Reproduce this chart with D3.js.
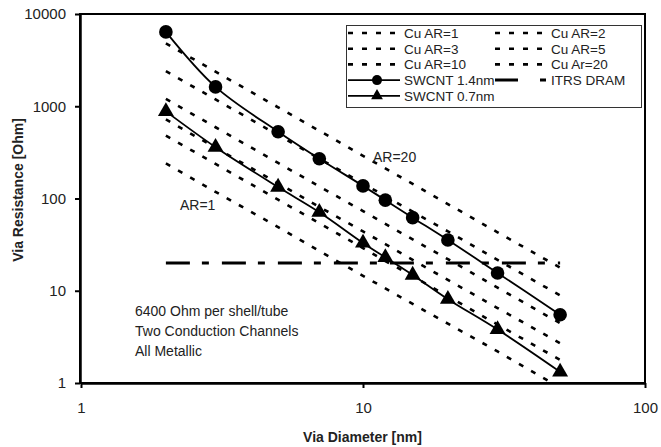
<!DOCTYPE html>
<html>
<head>
<meta charset="utf-8">
<script src="https://cdn.jsdelivr.net/npm/d3@7"></script>
<style>
    body { margin: 0; background: white; }
    text { font-family: "Liberation Sans", Arial, sans-serif; }
</style>
</head>
<body>
<div id="viaChart"></div>
<script>
// via diameters [nm]
const diameters = [2, 3, 5, 7, 10, 12, 15, 20, 30, 50]

// SWCNT bundles
const swcnt14 = [6400, 1620, 530, 270, 137, 96, 62, 35.5, 15.6, 5.5]
const swcnt07 = [880, 360, 133, 71, 33, 23, 14.8, 8.1, 3.8, 1.32]

// Cu vias, one list per aspect ratio
const cuAR1 = [240, 118, 49, 27, 14.5, 10.6, 7.2, 4.4, 2.2, 0.89]
const cuAR2 = [480, 237, 97, 54, 29, 21, 14.4, 8.7, 4.3, 1.78]
const cuAR3 = [720, 355, 146, 81, 44, 32, 21.6, 13.1, 6.5, 2.7]
const cuAR5 = [1200, 592, 243, 135, 73, 53, 36, 22, 10.8, 4.45]
const cuAR10 = [2400, 1185, 487, 271, 145, 106, 72, 44, 21.6, 8.9]
const cuAR20 = [4800, 2370, 974, 542, 290, 212, 144, 87, 43, 17.8]

// ITRS DRAM target
const itrsDiameters = [2, 50]
const itrsValues = [20, 20]

const xTicks = [1, 10, 100]
const yTicks = [1, 10, 100, 1000, 10000]

const cuSeries = [
    {name: "Cu AR=1", values: cuAR1},
    {name: "Cu AR=2", values: cuAR2},
    {name: "Cu AR=3", values: cuAR3},
    {name: "Cu AR=5", values: cuAR5},
    {name: "Cu AR=10", values: cuAR10},
    {name: "Cu Ar=20", values: cuAR20}
]

drawChart("viaChart")

function drawChart(id) {
    const width = 661
    const height = 447
    const margin = {top: 14, right: 16, bottom: 64, left: 80}

    const svg = d3.select("#" + id)
        .append("svg")
        .attr("width", width)
        .attr("height", height)

    const x = d3.scaleLog()
        .domain([1, 100])
        .range([margin.left + 1, width - margin.right])
    const y = d3.scaleLog()
        .domain([1, 10000])
        .range([height - margin.bottom, margin.top])

    svg.append("clipPath")
        .attr("id", "plotClip")
        .append("rect")
        .attr("x", margin.left)
        .attr("y", margin.top)
        .attr("width", width - margin.right - margin.left)
        .attr("height", height - margin.bottom - margin.top)

    const plot = svg.append("g").attr("clip-path", "url(#plotClip)")

    const line = d3.line()
        .x(function(d) { return x(d[0]) })
        .y(function(d) { return y(d[1]) })

    // Cu lines, dotted
    plot.selectAll("cuLines")
        .data(cuSeries)
        .enter()
        .append("path")
        .attr("d", function(s) { return line(d3.zip(diameters, s.values)) })
        .attr("fill", "none")
        .attr("stroke", "black")
        .attr("stroke-width", 2.6)
        .attr("stroke-dasharray", "5,9")

    // ITRS DRAM
    plot.append("path")
        .attr("d", line(d3.zip(itrsDiameters, itrsValues)))
        .attr("fill", "none")
        .attr("stroke", "black")
        .attr("stroke-width", 3)
        .attr("stroke-dasharray", "24,12,7,13")

    // SWCNT curves (smoothed like the spreadsheet did)
    const smooth = d3.line()
        .x(function(d) { return x(d[0]) })
        .y(function(d) { return y(d[1]) })
        .curve(d3.curveCatmullRom)

    plot.append("path")
        .attr("d", smooth(d3.zip(diameters, swcnt14)))
        .attr("fill", "none")
        .attr("stroke", "black")
        .attr("stroke-width", 1.8)
    plot.append("path")
        .attr("d", smooth(d3.zip(diameters, swcnt07)))
        .attr("fill", "none")
        .attr("stroke", "black")
        .attr("stroke-width", 1.8)

    svg.selectAll("circleMarks")
        .data(d3.zip(diameters, swcnt14))
        .enter()
        .append("circle")
        .attr("cx", function(d) { return x(d[0]) })
        .attr("cy", function(d) { return y(d[1]) })
        .attr("r", 6.8)
        .attr("fill", "black")

    const triangle = d3.symbol().type(d3.symbolTriangle).size(110)
    svg.selectAll("triangleMarks")
        .data(d3.zip(diameters, swcnt07))
        .enter()
        .append("path")
        .attr("d", triangle)
        .attr("transform", function(d) { return "translate(" + x(d[0]) + "," + y(d[1]) + ")" })
        .attr("fill", "black")

    // plot frame
    svg.append("rect")
        .attr("x", margin.left)
        .attr("y", margin.top)
        .attr("width", width - margin.right - margin.left)
        .attr("height", height - margin.bottom - margin.top)
        .attr("fill", "none")
        .attr("stroke", "black")
        .attr("stroke-width", 2)

    // axes
    const xAxis = svg.append("g")
        .attr("transform", "translate(0," + (height - margin.bottom) + ")")
        .call(d3.axisBottom(x).tickValues(xTicks).tickFormat(d3.format("d")).tickSize(5).tickSizeOuter(0).tickPadding(14))
    const yAxis = svg.append("g")
        .attr("transform", "translate(" + margin.left + ",0)")
        .call(d3.axisLeft(y).tickValues(yTicks).tickFormat(d3.format("d")).tickSize(5).tickSizeOuter(0).tickPadding(9))

    ;[xAxis, yAxis].forEach(function(a) {
        a.select(".domain").attr("stroke-width", 2.5)
        a.selectAll(".tick line").attr("stroke-width", 2)
        a.selectAll(".tick text")
            .style("font-size", "15px")
            .attr("fill", "#222")
    })

    svg.append("text")
        .attr("x", (margin.left + width - margin.right) / 2)
        .attr("y", 442)
        .attr("text-anchor", "middle")
        .style("font-size", "14px")
        .style("font-weight", "bold")
        .attr("fill", "#222")
        .text("Via Diameter [nm]")

    svg.append("text")
        .attr("transform", "translate(23,190) rotate(-90)")
        .attr("text-anchor", "middle")
        .style("font-size", "14px")
        .style("font-weight", "bold")
        .attr("fill", "#222")
        .text("Via Resistance [Ohm]")

    // annotations
    svg.append("text").attr("x", 180).attr("y", 210)
        .style("font-size", "14px").attr("fill", "#222").text("AR=1")
    svg.append("text").attr("x", 373).attr("y", 162)
        .style("font-size", "14px").attr("fill", "#222").text("AR=20")

    const notes = ["6400 Ohm per shell/tube", "Two Conduction Channels", "All Metallic"]
    svg.selectAll("notes")
        .data(notes)
        .enter()
        .append("text")
        .attr("x", 135)
        .attr("y", function(d, i) { return 316 + i * 20 })
        .style("font-size", "14px")
        .attr("fill", "#222")
        .text(function(d) { return d })

    createLegend(svg)
}

function createLegend(svg) {
    const legend = svg.append("g")
    legend.append("rect")
        .attr("x", 346.5)
        .attr("y", 25.5)
        .attr("width", 295)
        .attr("height", 82)
        .attr("fill", "white")
        .attr("stroke", "#333")
        .attr("stroke-width", 1)

    const rowY = function(i) { return 33 + i * 15.7 }
    const colX = [348, 495]

    cuSeries.forEach(function(s, i) {
        const cx = colX[i % 2]
        const cy = rowY(Math.floor(i / 2))
        legend.append("line")
            .attr("x1", cx).attr("x2", cx + 52)
            .attr("y1", cy).attr("y2", cy)
            .attr("stroke", "black")
            .attr("stroke-width", 2.6)
            .attr("stroke-dasharray", "5,9")
        legend.append("text")
            .attr("x", cx + 56)
            .attr("y", cy + 5)
            .style("font-size", "13.5px")
            .attr("fill", "#222")
            .text(s.name)
    })

    const other = [
        {name: "SWCNT 1.4nm", col: 0, row: 3, mark: "circle"},
        {name: "ITRS DRAM", col: 1, row: 3, mark: "dash"},
        {name: "SWCNT 0.7nm", col: 0, row: 4, mark: "triangle"}
    ]
    other.forEach(function(o) {
        const cx = colX[o.col]
        const cy = rowY(o.row)
        const l = legend.append("line")
            .attr("x1", cx).attr("x2", cx + 52)
            .attr("y1", cy).attr("y2", cy)
            .attr("stroke", "black")
        if (o.mark === "dash") {
            l.attr("stroke-width", 3).attr("stroke-dasharray", "23,22,6,10")
        } else {
            l.attr("stroke-width", 1.8)
        }
        if (o.mark === "circle") {
            legend.append("circle").attr("cx", cx + 29).attr("cy", cy).attr("r", 5).attr("fill", "black")
        }
        if (o.mark === "triangle") {
            legend.append("path")
                .attr("d", d3.symbol().type(d3.symbolTriangle).size(60))
                .attr("transform", "translate(" + (cx + 29) + "," + cy + ")")
                .attr("fill", "black")
        }
        legend.append("text")
            .attr("x", cx + 56)
            .attr("y", cy + 5)
            .style("font-size", "13.5px")
            .attr("fill", "#222")
            .text(o.name)
    })
}
</script>
</body>
</html>
